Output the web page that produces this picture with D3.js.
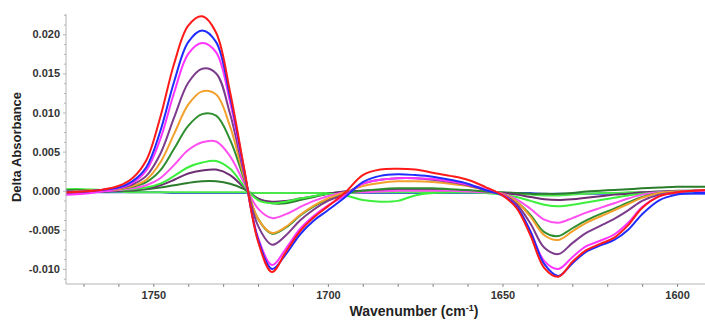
<!DOCTYPE html>
<html>
<head>
<meta charset="utf-8">
<script src="https://cdn.jsdelivr.net/npm/d3@7"></script>
<style>
  html, body { margin: 0; padding: 0; background: #fff; }
  svg { display: block; }
  text { font-family: "Liberation Sans", Arial, sans-serif; }
</style>
</head>
<body>
<svg id="chart" width="705" height="320"></svg>
<script>
// ---------- DATA ----------
const wavenumbers = [1775,1770,1765,1760,1756,1752,1748,1744,1740,1736,1732,1728,1724,1720,1716,1712,1708,1704,1700,1695,1690,1685,1680,1675,1670,1665,1660,1655,1650,1646,1642,1638,1634,1630,1626,1622,1618,1614,1610,1605,1600,1595,1592];

const red      = [-0.0002,-0.0001,0.0001,0.0006,0.0016,0.0039,0.0094,0.0163,0.0211,0.0223,0.0202,0.0126,0.0029,-0.0065,-0.0104,-0.0078,-0.0052,-0.0034,-0.0020,-0.0002,0.0020,0.0027,0.0028,0.0027,0.0023,0.0019,0.0014,0.0005,-0.0006,-0.0022,-0.0057,-0.0099,-0.0110,-0.0091,-0.0076,-0.0068,-0.0060,-0.0044,-0.0022,-0.0007,-0.0002,0.0000,0.0001];
const blue     = [-0.0001,-0.0001,0.0001,0.0004,0.0012,0.0030,0.0076,0.0140,0.0190,0.0205,0.0190,0.0120,0.0027,-0.0062,-0.0100,-0.0081,-0.0056,-0.0038,-0.0025,-0.0008,0.0011,0.0019,0.0021,0.0020,0.0018,0.0014,0.0009,0.0001,-0.0006,-0.0020,-0.0052,-0.0094,-0.0109,-0.0093,-0.0078,-0.0070,-0.0063,-0.0050,-0.0030,-0.0012,-0.0005,-0.0003,-0.0003];
const magenta  = [-0.0005,-0.0004,-0.0001,0.0003,0.0010,0.0026,0.0066,0.0126,0.0175,0.0189,0.0177,0.0113,0.0025,-0.0060,-0.0095,-0.0074,-0.0049,-0.0032,-0.0019,-0.0006,0.0009,0.0014,0.0016,0.0016,0.0015,0.0012,0.0008,0.0002,-0.0005,-0.0020,-0.0052,-0.0090,-0.0100,-0.0085,-0.0071,-0.0064,-0.0056,-0.0041,-0.0021,-0.0007,-0.0002,0.0000,0.0000];
const purple   = [-0.0003,-0.0002,0.0000,0.0003,0.0008,0.0019,0.0047,0.0094,0.0138,0.0156,0.0150,0.0098,0.0022,-0.0045,-0.0069,-0.0057,-0.0038,-0.0024,-0.0013,-0.0004,0.0009,0.0014,0.0016,0.0016,0.0014,0.0011,0.0007,0.0001,-0.0005,-0.0017,-0.0042,-0.0073,-0.0081,-0.0067,-0.0054,-0.0045,-0.0036,-0.0025,-0.0013,-0.0005,-0.0002,0.0000,0.0000];
const orange   = [-0.0001,0.0000,0.0001,0.0002,0.0006,0.0014,0.0036,0.0073,0.0110,0.0127,0.0123,0.0082,0.0018,-0.0036,-0.0054,-0.0046,-0.0031,-0.0019,-0.0010,-0.0002,0.0006,0.0010,0.0012,0.0012,0.0011,0.0009,0.0006,0.0001,-0.0004,-0.0014,-0.0033,-0.0057,-0.0063,-0.0052,-0.0041,-0.0033,-0.0025,-0.0017,-0.0009,-0.0003,-0.0001,0.0000,0.0000];
const darkGreen= [0.0001,0.0001,0.0001,0.0002,0.0005,0.0011,0.0026,0.0054,0.0083,0.0098,0.0096,0.0065,0.0015,-0.0036,-0.0055,-0.0047,-0.0032,-0.0020,-0.0011,-0.0003,0.0000,0.0002,0.0003,0.0003,0.0003,0.0002,0.0001,-0.0001,-0.0004,-0.0014,-0.0031,-0.0053,-0.0058,-0.0048,-0.0038,-0.0030,-0.0023,-0.0015,-0.0008,-0.0003,-0.0001,0.0000,0.0000];
const magenta2 = [-0.0004,-0.0003,-0.0001,0.0001,0.0003,0.0007,0.0016,0.0033,0.0052,0.0062,0.0063,0.0044,0.0010,-0.0023,-0.0035,-0.0030,-0.0021,-0.0013,-0.0007,-0.0002,-0.0002,-0.0001,0.0000,0.0000,0.0000,0.0000,-0.0001,-0.0002,-0.0004,-0.0011,-0.0023,-0.0037,-0.0041,-0.0035,-0.0028,-0.0022,-0.0016,-0.0010,-0.0005,-0.0002,-0.0001,0.0000,0.0000];
const green    = [0.0002,0.0002,0.0001,0.0001,0.0002,0.0004,0.0009,0.0019,0.0030,0.0036,0.0038,0.0028,0.0006,-0.0012,-0.0016,-0.0014,-0.0010,-0.0007,-0.0004,-0.0006,-0.0012,-0.0014,-0.0013,-0.0006,-0.0003,-0.0002,-0.0002,-0.0003,-0.0005,-0.0008,-0.0013,-0.0018,-0.0020,-0.0018,-0.0015,-0.0012,-0.0009,-0.0006,-0.0004,-0.0002,-0.0001,0.0000,0.0000];
const purple2  = [-0.0001,-0.0001,-0.0001,0.0000,0.0001,0.0003,0.0007,0.0014,0.0022,0.0026,0.0027,0.0020,0.0004,-0.0010,-0.0014,-0.0013,-0.0010,-0.0007,-0.0004,-0.0001,0.0000,0.0001,0.0001,0.0001,0.0001,0.0000,-0.0001,-0.0002,-0.0003,-0.0005,-0.0008,-0.0011,-0.0012,-0.0011,-0.0009,-0.0007,-0.0005,-0.0004,-0.0002,-0.0001,0.0000,0.0000,0.0000];
const darkGreen2=[0.0000,0.0000,-0.0001,0.0000,0.0000,0.0002,0.0004,0.0007,0.0010,0.0012,0.0012,0.0009,0.0002,-0.0010,-0.0016,-0.0016,-0.0012,-0.0008,-0.0004,-0.0001,0.0000,0.0001,0.0001,0.0001,0.0001,0.0001,0.0000,-0.0001,-0.0002,-0.0003,-0.0004,-0.0004,-0.0004,-0.0003,-0.0001,0.0000,0.0001,0.0002,0.0003,0.0004,0.0005,0.0005,0.0005];
const greenFlat= [0.0001,0.0000,-0.0001,-0.0001,-0.0002,-0.0002,-0.0002,-0.0002,-0.0002,-0.0002,-0.0002,-0.0002,-0.0002,-0.0003,-0.0003,-0.0003,-0.0003,-0.0003,-0.0003,-0.0003,-0.0002,-0.0002,-0.0002,-0.0002,-0.0002,-0.0002,-0.0002,-0.0002,-0.0003,-0.0004,-0.0005,-0.0006,-0.0006,-0.0005,-0.0004,-0.0003,-0.0003,-0.0002,-0.0002,-0.0001,-0.0001,-0.0001,-0.0001];
const blueFlat = [-0.0002,-0.0002,-0.0002,-0.0002,-0.0002,-0.0002,-0.0002,-0.0003,-0.0003,-0.0003,-0.0003,-0.0003,-0.0003,-0.0003,-0.0003,-0.0003,-0.0003,-0.0003,-0.0003,-0.0003,-0.0003,-0.0003,-0.0003,-0.0003,-0.0003,-0.0003,-0.0003,-0.0003,-0.0003,-0.0003,-0.0003,-0.0004,-0.0004,-0.0004,-0.0004,-0.0004,-0.0004,-0.0004,-0.0004,-0.0004,-0.0004,-0.0004,-0.0004];

// drawing order (back to front) and colours
const seriesNames  = ["blueFlat","greenFlat","darkGreen2","purple2","green","magenta2","darkGreen","orange","purple","magenta","blue","red"];
const seriesValues = [blueFlat, greenFlat, darkGreen2, purple2, green, magenta2, darkGreen, orange, purple, magenta, blue, red];
const seriesColors = ["#3a4ef0","#4be84b","#2b7d2b","#6e2f72","#3cef3c","#ff4ff0","#2f8f2f","#f3a12c","#7d3b8c","#ff33ff","#1f2cff","#ff1a1a"];

const xMajorTicks = [1750, 1700, 1650, 1600];
const xMinorTicks = [1770,1760,1740,1730,1720,1710,1690,1680,1670,1660,1640,1630,1620,1610];
const yMajorTicks = [-0.010, -0.005, 0.000, 0.005, 0.010, 0.015, 0.020];
const yTickLabels = ["-0.010","-0.005","0.000","0.005","0.010","0.015","0.020"];
const yMinorTicks = [-0.01125,-0.00875,-0.00750,-0.00625,-0.00375,-0.00250,-0.00125,0.00125,0.00250,0.00375,0.00625,0.00750,0.00875,0.01125,0.01250,0.01375,0.01625,0.01750,0.01875,0.02125,0.02250];

// ---------- LAYOUT ----------
(function () {
const svg = d3.select("#chart");
const mLeft = 66, mRight = 705, mTop = 14, mBottom = 284;
const axisColor = "#b4b4b4";
const textColor = "#333";

const x = d3.scaleLinear().domain([1775, 1592]).range([mLeft, mRight]);
const y = d3.scaleLinear().domain([-0.01193, 0.0226]).range([mBottom, mTop]);

svg.append("defs").append("clipPath").attr("id", "plotclip")
  .append("rect").attr("x", mLeft).attr("y", mTop - 2).attr("width", mRight - mLeft).attr("height", mBottom - mTop + 4);

const line = d3.line()
  .x((d, i) => x(wavenumbers[i]))
  .y(d => y(d))
  .curve(d3.curveCatmullRom.alpha(0.5));

const g = svg.append("g").attr("clip-path", "url(#plotclip)");
seriesValues.forEach((vals, k) => {
  g.append("path")
    .attr("d", line(vals))
    .attr("fill", "none")
    .attr("stroke", seriesColors[k])
    .attr("stroke-width", 2)
    .attr("stroke-linejoin", "round")
    .attr("class", "series-" + seriesNames[k]);
});

// y axis
const yAxis = d3.axisLeft(y).tickValues(yMajorTicks).tickSize(3).tickPadding(3)
  .tickFormat((d, i) => yTickLabels[i]);
const gy = svg.append("g").attr("transform", `translate(${mLeft},0)`).call(yAxis);
gy.select(".domain").attr("stroke", axisColor).attr("d", `M0,${mTop}V${mBottom}`);
gy.selectAll(".tick line").attr("stroke", axisColor);
gy.selectAll(".tick text").attr("fill", textColor).attr("font-size", 11).attr("font-weight", "bold")
  .attr("font-family", "'Liberation Sans', Arial, sans-serif");
const yMinor = d3.axisLeft(y).tickValues(yMinorTicks).tickSize(2).tickFormat("");
const gym = svg.append("g").attr("transform", `translate(${mLeft},0)`).call(yMinor);
gym.select(".domain").remove();
gym.selectAll(".tick line").attr("stroke", axisColor);

// x axis
const xAxis = d3.axisBottom(x).tickValues(xMajorTicks).tickSize(3).tickPadding(4)
  .tickFormat(d3.format("d"));
const gx = svg.append("g").attr("transform", `translate(0,${mBottom})`).call(xAxis);
gx.select(".domain").attr("stroke", axisColor).attr("d", `M${mLeft},0H${mRight}`);
gx.selectAll(".tick line").attr("stroke", "#888");
gx.selectAll(".tick text").attr("fill", textColor).attr("font-size", 11).attr("font-weight", "bold")
  .attr("font-family", "'Liberation Sans', Arial, sans-serif");
const xMinor = d3.axisBottom(x).tickValues(xMinorTicks).tickSize(3).tickFormat("");
const gxm = svg.append("g").attr("transform", `translate(0,${mBottom})`).call(xMinor);
gxm.select(".domain").remove();
gxm.selectAll(".tick line").attr("stroke", "#888");

// axis titles
svg.append("text")
  .attr("transform", `translate(21,147) rotate(-90)`)
  .attr("text-anchor", "middle")
  .attr("font-size", 13).attr("font-weight", "bold").attr("fill", "#222")
  .text("Delta Absorbance");

const xt = svg.append("text")
  .attr("x", 414).attr("y", 316)
  .attr("text-anchor", "middle")
  .attr("font-size", 14).attr("font-weight", "bold").attr("fill", "#222");
xt.append("tspan").text("Wavenumber (cm");
xt.append("tspan").attr("font-size", 9).attr("dy", -5).text("-1");
xt.append("tspan").attr("dy", 5).text(")");
})();
</script>
</body>
</html>
